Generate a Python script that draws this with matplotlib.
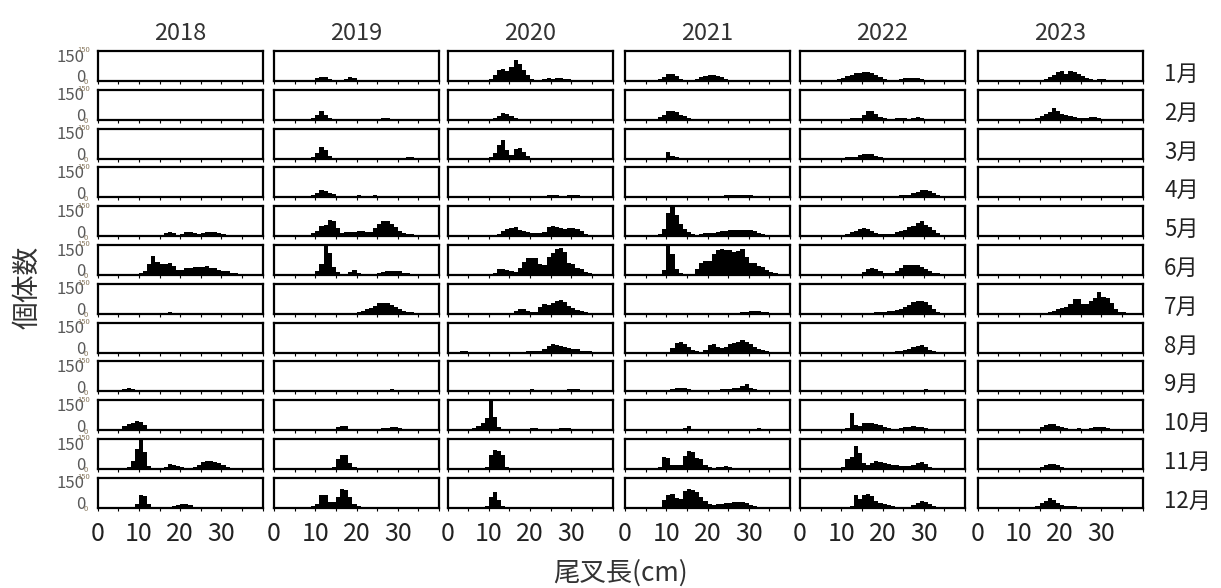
import numpy as np
import matplotlib
matplotlib.use("Agg")
import matplotlib.pyplot as plt

plt.rcParams["font.family"] = ["Noto Sans CJK JP", "DejaVu Sans"]

YEARS = ["2018", "2019", "2020", "2021", "2022", "2023"]
MONTHS = [f"{m}月" for m in range(1, 13)]
XTICK_LABELS = ["0", "10", "20", "30"]

# 각 월: (첫 구간의 하한 cm, 1cm 구간별 개체수)
H2018 = [
    (0, []),
    (0, []),
    (10, [4, 5, 4, 3, 2, 2, 2, 2, 2, 2, 2, 2, 2, 2, 3, 4, 4, 3]),
    (10, [3, 4, 5, 5, 5, 4, 4, 3]),
    (12, [2, 3, 3, 5, 15, 22, 18, 8, 12, 20, 20, 18, 10, 15, 20, 22, 22, 18, 10, 5, 3]),
    (10, [10, 22, 55, 95, 65, 55, 55, 60, 45, 25, 25, 35, 35, 38, 42, 42, 45, 35, 35, 25, 22, 18, 12, 8, 5, 3]),
    (14, [3, 4, 6, 8, 6, 4, 3, 2, 2, 2, 2, 2, 4, 4, 3]),
    (15, [3, 4, 3]),
    (5, [5, 10, 15, 14, 8, 3, 2, 2, 2, 2, 2, 2, 5, 6, 4, 2, 2, 2, 2, 2, 2, 2, 2, 2, 2, 3, 3]),
    (5, [8, 22, 30, 38, 48, 42, 25, 8, 4, 3]),
    (7, [10, 40, 100, 150, 85, 15, 4, 3, 3, 8, 25, 20, 15, 8, 6, 6, 8, 20, 35, 38, 40, 35, 28, 20, 10, 5, 3]),
    (9, [20, 62, 60, 18, 5, 4, 3, 4, 6, 10, 15, 18, 20, 12, 6, 4, 3, 3, 3]),
]
H2019 = [
    (9, [5, 15, 22, 20, 8, 4, 3, 3, 10, 20, 15, 5, 3, 2, 2, 2, 4, 3, 4, 3, 4]),
    (9, [8, 25, 45, 25, 10, 6, 4, 3, 3, 3, 3, 3, 4, 5, 6, 6, 6, 7, 8, 6, 4, 3]),
    (8, [4, 10, 28, 58, 42, 15, 5, 4, 4, 3, 3, 3, 3, 3, 3, 3, 3, 3, 3, 3, 3, 3, 3, 5, 6, 6, 5, 3]),
    (8, [5, 10, 22, 37, 30, 20, 15, 8, 6, 6, 8, 9, 10, 8, 7, 8, 10, 8, 7, 6, 6, 5, 4, 3, 3, 2]),
    (9, [15, 26, 50, 55, 80, 75, 43, 18, 20, 22, 22, 25, 26, 22, 20, 40, 62, 75, 76, 60, 45, 28, 18, 12, 10, 8, 7, 6, 5, 5, 6]),
    (10, [20, 55, 150, 110, 40, 16, 6, 5, 15, 25, 10, 6, 5, 5, 6, 8, 15, 20, 22, 22, 20, 12, 8, 5, 4, 3, 3, 3, 3, 3]),
    (10, [3, 3, 4, 3, 3, 3, 4, 5, 6, 6, 10, 15, 25, 30, 40, 52, 56, 55, 45, 35, 22, 15, 10, 7, 5, 4, 3]),
    (15, [2, 3, 2, 2, 3, 3, 2, 2, 3, 3, 3, 2, 3, 3, 3, 2, 2, 2]),
    (3, [3] * 24 + [4, 10, 6, 8, 5, 3, 3, 3, 2]),
    (13, [4, 8, 15, 22, 20, 8, 4, 3, 3, 3, 3, 5, 8, 10, 12, 14, 15, 12, 8, 5, 3]),
    (13, [5, 10, 50, 70, 72, 30, 8, 4, 3, 2, 2, 2, 5, 6, 6, 6, 4, 3, 2, 3, 3]),
    (9, [10, 20, 64, 64, 30, 30, 55, 93, 90, 55, 20, 8, 5, 5, 4, 4, 3, 3, 3, 3, 3, 3, 3, 3]),
]
H2020 = [
    (8, [5, 6, 12, 30, 55, 58, 48, 72, 105, 85, 55, 30, 8, 5, 5, 8, 15, 12, 15, 15, 12, 10, 6, 5, 4, 4, 3, 3, 3]),
    (10, [4, 8, 18, 32, 30, 18, 8, 5, 3, 3, 3]),
    (9, [5, 10, 30, 68, 95, 45, 18, 50, 55, 35, 12, 5, 4, 3, 3, 3, 3, 3, 3, 3, 3, 3, 3, 3, 3, 3, 3]),
    (8, [3, 4, 3, 2, 2, 2, 2, 2, 2, 2, 2, 3, 4, 5, 6, 8, 10, 11, 10, 9, 8, 10, 12, 10, 6, 5, 4, 3]),
    (9, [5, 5, 8, 12, 25, 35, 43, 45, 30, 25, 20, 17, 17, 17, 20, 45, 52, 48, 42, 38, 42, 40, 38, 25, 12, 8, 6, 4, 3]),
    (10, [5, 10, 30, 30, 25, 18, 15, 35, 67, 83, 83, 83, 55, 52, 90, 110, 130, 137, 117, 60, 55, 33, 30, 17, 8, 5, 3]),
    (6, [3, 3, 3, 3, 4, 4, 5, 3, 4, 5, 12, 25, 22, 12, 8, 10, 35, 50, 45, 55, 65, 67, 58, 40, 28, 18, 12, 8, 6, 5, 4, 3]),
    (1, [3, 5, 8, 6, 4, 3, 3, 3, 3, 3, 2, 2, 2, 2, 2, 4, 5, 5, 6, 6, 8, 10, 20, 35, 42, 40, 35, 30, 22, 20, 18, 10, 8, 6, 4, 3]),
    (4, [3, 4, 4, 3, 3, 2, 2, 2, 2, 2, 2, 2, 2, 2, 5, 8, 10, 8, 5, 4, 4, 6, 8, 8, 9, 10, 12, 10, 6, 4, 3, 3, 2]),
    (4, [5, 8, 10, 20, 35, 60, 145, 65, 15, 8, 6, 5, 5, 5, 6, 8, 10, 10, 8, 6, 6, 7, 8, 10, 12, 10, 8, 6, 5, 5, 4, 3, 3]),
    (8, [5, 10, 70, 95, 90, 70, 12, 4, 3, 3, 5, 5, 3]),
    (9, [8, 55, 80, 40, 10, 4, 3, 3] + [2] * 14 + [3, 4, 4, 3, 2, 2, 4, 5, 5]),
]
H2021 = [
    (7, [5, 12, 22, 33, 35, 25, 10, 4, 3, 4, 10, 20, 25, 28, 28, 25, 18, 10, 6, 4, 3, 3, 3, 3, 3, 3, 3, 3, 3]),
    (7, [4, 12, 25, 42, 42, 38, 25, 20, 8, 4, 3, 3, 3, 3, 3, 3, 3, 3, 3, 3, 3, 3, 3]),
    (9, [5, 33, 15, 8, 5, 4] + [3] * 21),
    (15, [3, 3, 4, 5, 5, 5, 6, 8, 9, 10, 10, 12, 13, 14, 14, 12, 8, 6, 5, 4, 3]),
    (8, [10, 35, 115, 148, 105, 62, 35, 20, 10, 8, 10, 14, 14, 15, 20, 25, 28, 30, 30, 30, 30, 30, 30, 25, 18, 12, 8, 5, 3]),
    (9, [25, 148, 106, 30, 10, 4, 3, 3, 30, 62, 70, 70, 106, 125, 129, 124, 124, 115, 120, 130, 88, 62, 62, 44, 40, 23, 15, 10, 6, 4]),
    (7, [3, 3, 4, 5, 5, 6, 6, 5, 4, 3, 2, 2, 2, 3, 3, 3, 3, 4, 4, 5, 6, 8, 10, 12, 12, 12, 10, 8, 6, 4, 3, 3, 3]),
    (10, [5, 25, 50, 52, 42, 30, 15, 6, 5, 15, 38, 45, 30, 25, 28, 42, 48, 52, 65, 55, 45, 30, 18, 12, 6, 3]),
    (8, [3, 4, 6, 10, 15, 18, 15, 10, 7, 5, 4, 5, 8, 6, 8, 10, 12, 14, 16, 18, 25, 35, 18, 10, 7, 5, 4, 3]),
    (5, [3, 3, 3, 3, 3, 4, 4, 5, 6, 12, 20, 8, 5, 4, 3, 2, 2, 2, 2, 2, 3, 4, 4, 5, 5, 6, 8, 10, 7, 5, 4, 3]),
    (8, [8, 60, 55, 22, 18, 22, 65, 88, 85, 55, 50, 20, 8, 5, 10, 12, 14, 10, 6, 4, 3]),
    (9, [40, 65, 70, 50, 45, 83, 92, 90, 78, 56, 35, 18, 14, 18, 20, 22, 25, 28, 30, 30, 22, 15, 8, 4]),
]
H2022 = [
    (8, [4, 8, 15, 25, 32, 40, 42, 45, 45, 38, 30, 18, 8, 5, 4, 5, 12, 15, 16, 15, 14, 10, 6, 4, 3]),
    (9, [4, 5, 6, 8, 8, 10, 25, 42, 45, 28, 15, 8, 6, 5, 8, 10, 8, 6, 8, 12, 8, 5, 3]),
    (7, [3, 3, 4, 5, 6, 8, 10, 18, 22, 25, 22, 14, 8, 5, 3]),
    (15, [3, 4, 4, 5, 4, 5, 6, 6, 8, 10, 10, 14, 20, 25, 35, 38, 30, 20, 12, 8, 6, 4, 3]),
    (9, [5, 8, 12, 20, 25, 35, 40, 38, 25, 15, 10, 10, 10, 12, 20, 25, 32, 45, 50, 65, 74, 55, 45, 30, 15, 6, 3]),
    (12, [3, 3, 6, 15, 28, 33, 30, 20, 10, 8, 10, 22, 35, 48, 52, 52, 48, 40, 28, 18, 12, 8, 5, 3]),
    (8, [3, 3, 3, 4, 4, 4, 5, 5, 5, 6, 8, 8, 10, 12, 14, 18, 25, 35, 45, 58, 62, 65, 60, 45, 22, 10, 6, 5, 4, 3]),
    (10, [3, 4, 3, 4, 3, 4, 3, 3, 4, 4, 3, 4, 5, 6, 8, 12, 20, 30, 35, 38, 28, 15, 8, 5, 4, 4, 3]),
    (15, [3, 3, 4, 4, 4, 3, 3, 3, 3, 3, 4, 5, 5, 5, 5, 10, 6, 4, 4, 3, 3, 3]),
    (10, [4, 10, 85, 25, 20, 35, 38, 35, 30, 25, 15, 10, 8, 8, 12, 15, 18, 20, 18, 15, 12, 8, 6, 5, 4, 3]),
    (9, [5, 10, 50, 60, 115, 80, 28, 22, 30, 38, 35, 28, 25, 22, 18, 15, 14, 15, 22, 28, 35, 25, 12, 6, 3]),
    (10, [3, 4, 8, 65, 45, 65, 70, 58, 35, 25, 18, 12, 10, 5, 5, 4, 5, 12, 25, 34, 30, 18, 10, 5, 3]),
]
H2023 = [
    (12, [3, 4, 5, 6, 12, 20, 30, 45, 52, 35, 50, 45, 35, 25, 15, 8, 7, 10, 8, 4, 3]),
    (11, [3, 4, 6, 10, 18, 28, 40, 57, 45, 30, 22, 18, 15, 10, 8, 8, 12, 14, 8, 4, 3]),
    (0, []),
    (0, []),
    (13, [2, 2, 3, 3, 3, 3, 3, 3, 3, 3, 3, 3, 3, 3, 3, 3, 4, 5, 8, 6, 3, 2]),
    (20, [2] * 20),
    (14, [3, 5, 6, 8, 15, 25, 30, 32, 50, 72, 72, 47, 47, 65, 80, 108, 82, 80, 55, 22, 10, 10, 5, 3]),
    (18, [2, 2, 3, 3, 3, 3, 3, 3, 3, 3, 3, 3, 4, 4, 3, 3, 2]),
    (0, []),
    (12, [3, 4, 6, 15, 25, 33, 30, 22, 15, 10, 8, 8, 9, 8, 8, 10, 15, 18, 15, 10, 6, 4]),
    (13, [3, 5, 10, 22, 27, 25, 18, 10, 5, 4, 3]),
    (12, [3, 4, 8, 25, 35, 50, 40, 25, 12, 8, 8, 8, 6, 5, 4, 3]),
]
ALL = [H2018, H2019, H2020, H2021, H2022, H2023]

W, H = 1221, 588
fig = plt.figure(figsize=(W / 100, H / 100), dpi=100)

COL_LEFT = [97.7, 274, 447.5, 625, 800, 977.7]   # 픽셀 기준 패널 좌단
PW, PH = 165, 30
ROW_TOP0, ROW_PITCH = 51, 38.8
GRAY = "#595959"

for j, year_data in enumerate(ALL):
    for i, (start, counts) in enumerate(year_data):
        top = ROW_TOP0 + i * ROW_PITCH
        ax = fig.add_axes([COL_LEFT[j] / W, 1 - (top + PH) / H, PW / W, PH / H])
        if counts:
            edges = start + np.arange(len(counts))
            ax.bar(edges, counts, width=1.0, align="edge", color="black", linewidth=0)
        ax.set_xlim(0, 40)
        ax.set_ylim(0, 150)
        ax.set_yticks([])
        ax.set_xticks(np.arange(0, 41, 5))
        ax.tick_params(axis="x", direction="out", length=2.5, width=0.8, labelbottom=False)
        for s in ax.spines.values():
            s.set_linewidth(1.6)
        if i == 11:
            ax.set_xticks([0, 10, 20, 30], labels=XTICK_LABELS, minor=False)
            ax.set_xticks(np.arange(0, 41, 5), minor=True)
            ax.tick_params(axis="x", which="minor", direction="out", length=2.5, width=0.8)
            ax.tick_params(axis="x", which="major", labelbottom=True, labelsize=18,
                           labelcolor="#222222", pad=7)
        if i == 0:
            ax.set_title(YEARS[j], fontsize=17, color="#333333", pad=8)
        if j == 0:
            # 왼쪽 y 눈금 글자 (150 / 0), 작은 글자는 원본의 겹친 눈금
            ax.text(-0.08, 0.80, "150", transform=ax.transAxes, ha="right", va="center",
                    fontsize=12, color=GRAY)
            ax.text(-0.045, 1.02, "150", transform=ax.transAxes, ha="right", va="center",
                    fontsize=5.5, color="#8a7a60")
            ax.text(-0.075, 0.10, "0", transform=ax.transAxes, ha="right", va="center",
                    fontsize=12, color=GRAY)
            ax.text(-0.06, -0.05, "0", transform=ax.transAxes, ha="right", va="center",
                    fontsize=5.5, color="#8a7a60")
        if j == 5:
            ax.text(1.13, 0.22, MONTHS[i], transform=ax.transAxes, ha="left", va="center",
                    fontsize=16, color="#222222")

fig.text(27 / W, 1 - 287 / H, "個体数", rotation=90, ha="center", va="center",
         fontsize=20, color="#333333")
fig.text(620 / W, 1 - 573 / H, "尾叉長(cm)", ha="center", va="center",
         fontsize=19, color="#333333")

fig.savefig("out.png", dpi=100)
